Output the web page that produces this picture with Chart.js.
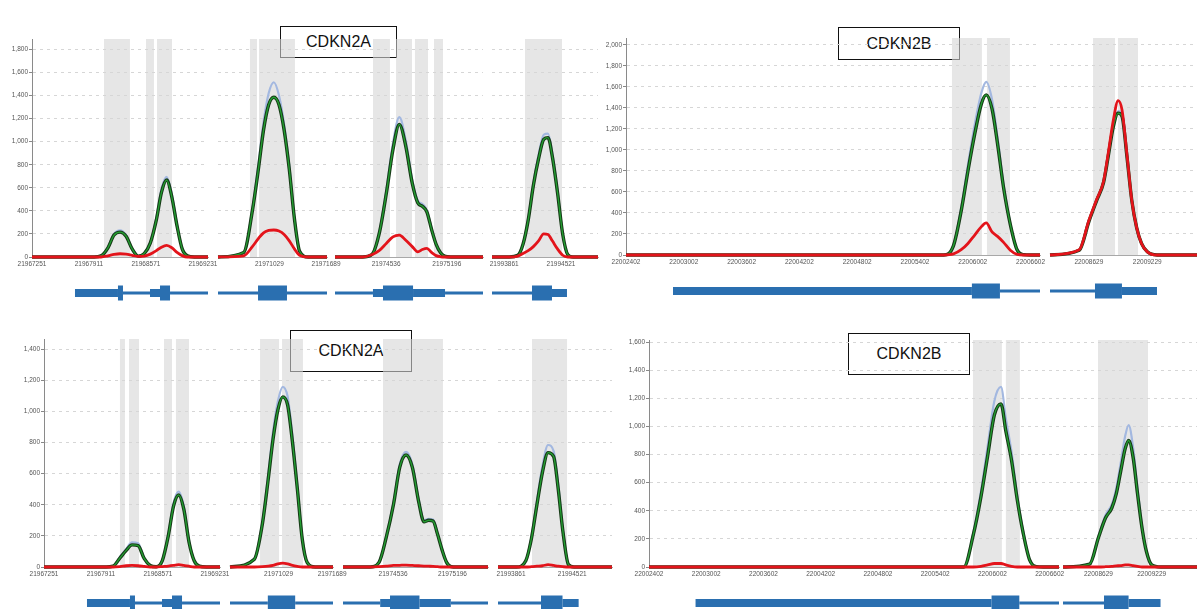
<!DOCTYPE html>
<html><head><meta charset="utf-8">
<script src="https://cdn.jsdelivr.net/npm/chart.js@4.4.1/dist/chart.umd.min.js"></script>
<style>
html,body{margin:0;padding:0;background:#fff;}
body{width:1197px;height:609px;overflow:hidden;position:relative;font-family:'Liberation Sans',Arial,sans-serif;}
canvas{position:absolute;}
.title{position:absolute;box-sizing:border-box;border:1.5px solid #111;background:#fff;display:flex;align-items:center;justify-content:center;font-size:16px;color:#111;}
</style></head>
<body>
<div class="title" style="left:280px;top:26px;width:117px;height:32px;">CDKN2A</div>
<div class="title" style="left:838px;top:27px;width:122px;height:33px;">CDKN2B</div>
<div class="title" style="left:290px;top:330px;width:122px;height:42px;">CDKN2A</div>
<div class="title" style="left:848px;top:333px;width:122px;height:42px;">CDKN2B</div>
<script>
// ---------- y tick labels per panel ----------
const upAYTicks = [0,200,400,600,800,1000,1200,1400,1600,1800];
const upBYTicks = [0,200,400,600,800,1000,1200,1400,1600,1800,2000];
const loAYTicks = [0,200,400,600,800,1000,1200,1400];
const loBYTicks = [0,200,400,600,800,1000,1200,1400,1600];

// ---------- CDKN2A : axis ranges, ticks, positions ----------
const aRange1 = [21967251, 21969290];
const aRange2 = [21970431, 21971700];
const aRange3 = [21973980, 21975590];
const aRange4 = [21993720, 21994950];
const aTicks1 = [21967251, 21967911, 21968571, 21969231];
const aTicks2 = [21971029, 21971689];
const aTicks3 = [21974536, 21975196];
const aTicks4 = [21993861, 21994521];
const aPos1 = [21967251,21967851,21967971,21968051,21968131,21968201,21968271,21968341,21968411,21968481,21968551,21968621,21968691,21968751,21968811,21968871,21968931,21968991,21969051,21969131,21969290];
const aPos2 = [21970431,21970731,21970831,21970901,21970961,21971021,21971081,21971141,21971201,21971261,21971321,21971381,21971481,21971700];
const aPos3 = [21973980,21974280,21974380,21974460,21974540,21974610,21974680,21974750,21974820,21974880,21974930,21974980,21975030,21975080,21975130,21975180,21975240,21975330,21975590];
const aPos4 = [21993720,21993920,21994020,21994080,21994140,21994200,21994260,21994320,21994370,21994420,21994480,21994540,21994600,21994660,21994720,21994950];

// ---------- CDKN2B : axis ranges, ticks, positions ----------
const bRange1 = [22002402, 22006700];
const bRange2 = [22008230, 22009740];
const bTicks1 = [22002402, 22003002, 22003602, 22004202, 22004802, 22005402, 22006002, 22006602];
const bTicks2 = [22008629, 22009229];
const bPos1 = [22002402,22005402,22005702,22005802,22005882,22005952,22006022,22006092,22006142,22006202,22006262,22006322,22006392,22006462,22006532,22006602,22006700];
const bPos2 = [22008230,22008530,22008630,22008710,22008780,22008830,22008880,22008930,22008970,22009020,22009070,22009120,22009170,22009230,22009330,22009740];

// ---------- coverage, upper CDKN2A panel ----------
const upA1Green = [0,0,0,10,80,190,216,180,70,8,30,120,320,560,667,520,270,70,10,0,0];
const upA1Red   = [0,0,0,0,10,22,28,25,15,5,8,25,55,85,100,80,40,12,0,0,0];
const upA1Blue  = [0,0,0,10,84,200,232,190,74,8,32,128,338,590,695,545,282,73,10,0,0];
const upA2Green = [0,40,400,760,1100,1320,1385,1320,1100,760,330,50,0,0];
const upA2Red   = [0,10,90,160,210,230,234,225,195,140,70,15,0,0];
const upA2Blue  = [0,42,420,800,1170,1420,1515,1400,1150,790,340,52,0,0];
const upA3Green = [0,0,20,200,560,930,1150,960,640,470,440,390,240,110,35,5,0,0,0];
const upA3Red   = [0,0,20,55,120,175,190,145,90,45,65,75,40,12,2,0,0,0,0];
const upA3Blue  = [0,0,21,210,590,985,1212,1010,670,490,460,405,250,114,36,5,0,0,0];
const upA4Green = [0,0,15,110,320,620,850,1020,1035,870,560,200,20,0,0,0];
const upA4Red   = [0,0,8,30,55,90,140,200,195,140,70,15,0,0,0,0];
const upA4Blue  = [0,0,15,115,335,645,885,1060,1070,900,575,205,20,0,0,0];

// ---------- coverage, lower CDKN2A panel ----------
const loA1Green = [0,0,0,5,58,105,142,138,55,10,2,40,200,390,463,370,160,40,5,0,0];
const loA1Red   = [0,0,0,0,3,8,10,8,4,0,0,3,6,10,15,10,5,0,0,0,0];
const loA1Blue  = [0,0,0,6,64,115,158,152,60,10,2,44,212,410,485,390,170,42,5,0,0];
const loA2Green = [0,50,280,560,820,1010,1093,1040,800,500,180,30,0,0];
const loA2Red   = [0,0,2,5,10,20,25,20,10,4,0,0,0,0];
const loA2Blue  = [0,52,295,590,870,1065,1158,1095,840,520,185,30,0,0];
const loA3Green = [0,0,30,190,400,640,720,640,420,290,300,295,210,110,30,3,0,0,0];
const loA3Red   = [0,0,2,5,10,11,12,10,8,6,5,4,2,0,0,0,0,0,0];
const loA3Blue  = [0,0,31,198,415,660,740,660,435,300,310,305,217,114,31,3,0,0,0];
const loA4Green = [0,0,40,180,400,610,735,710,500,230,15,0,0,0,0,0];
const loA4Red   = [0,0,0,2,5,8,15,10,5,2,0,0,0,0,0,0];
const loA4Blue  = [0,0,42,190,425,650,784,745,530,240,15,0,0,0,0,0];

// ---------- coverage, upper CDKN2B panel ----------
const upB1Green = [0,0,0,90,420,800,1150,1440,1524,1390,1040,640,290,50,3,0,0];
const upB1Red   = [0,0,0,10,50,110,190,270,305,220,175,120,45,5,0,0,0];
const upB1Blue  = [0,0,0,95,450,860,1240,1545,1648,1480,1100,670,300,52,3,0,0];
const upB2Green = [0,45,320,520,690,950,1220,1350,1320,940,520,260,110,30,0,0];
const upB2Red   = [0,50,330,530,700,980,1280,1470,1380,960,520,260,110,30,0,0];
const upB2Blue  = [0,46,325,525,695,960,1240,1370,1340,950,525,262,111,30,0,0];

// ---------- coverage, lower CDKN2B panel ----------
const loB1Green = [0,0,0,230,500,790,1080,1160,970,760,480,250,50,3,0,0,0];
const loB1Red   = [0,0,0,0,5,15,25,25,15,5,0,0,0,0,0,0,0];
const loB1Blue  = [0,0,0,245,540,860,1180,1281,1060,820,510,262,52,3,0,0,0];
const loB2Green = [0,20,210,350,420,520,680,840,900,780,520,280,110,15,0,0];
const loB2Red   = [0,0,0,2,5,8,10,15,15,10,5,0,0,0,0,0];
const loB2Blue  = [0,21,220,370,445,560,740,930,1010,850,560,295,115,15,0,0];

// ---------- shaded exon regions [start, end] ----------
const upA1Exons = [[21968085,21968386],[21968572,21968664],[21968699,21968873]];
const upA2Exons = [[21970803,21970885],[21970908,21971327]];
const upA3Exons = [[21974393,21974578],[21974644,21974818],[21974850,21974992],[21975057,21975155]];
const upA4Exons = [[21994103,21994532]];
const loA1Exons = [[21968131,21968189],[21968236,21968352],[21968641,21968734],[21968780,21968931]];
const loA2Exons = [[21970801,21971035],[21971072,21971330]];
const loA3Exons = [[21974424,21975090]];
const loA4Exons = [[21994087,21994465]];
const upB1Exons = [[22005786,22006097],[22006149,22006388]];
const upB2Exons = [[22008672,22008898],[22008928,22009134]];
const loB1Exons = [[22005798,22006101],[22006143,22006290]];
const loB2Exons = [[22008624,22009188]];

// ---------- gene models [start, end, kind] kind 1=intron 2=UTR 3=CDS ----------
const aGene1 = [[21967749,21968247,2],[21968247,21968305,3],[21968305,21968618,1],[21968618,21968734,2],[21968734,21968850,3],[21968850,21969290,1]];
const aGene2 = [[21970431,21970897,1],[21970897,21971234,3],[21971234,21971700,1]];
const aGene3 = [[21973980,21974393,1],[21974393,21974502,2],[21974502,21974829,3],[21974829,21975177,2],[21975177,21975590,1]];
const aGene4 = [[21993720,21994184,1],[21994184,21994416,3],[21994416,21994590,2]];
const bGene1 = [[22002890,22005993,2],[22005993,22006284,3],[22006284,22006700,1]];
const bGene2 = [[22008230,22008692,1],[22008692,22008969,3],[22008969,22009329,2]];

// ---------- layout (pixel geometry, not data) ----------
const panels = [
  {top:39, bottom:257, yMax:1890, yTicks:upAYTicks, axisLeft:0, segs:[
    {l:32, r:208, range:aRange1, ticks:aTicks1, pos:aPos1, g:upA1Green, rd:upA1Red, bl:upA1Blue, ex:upA1Exons, gene:aGene1},
    {l:218, r:327, range:aRange2, ticks:aTicks2, pos:aPos2, g:upA2Green, rd:upA2Red, bl:upA2Blue, ex:upA2Exons, gene:aGene2},
    {l:335, r:483, range:aRange3, ticks:aTicks3, pos:aPos3, g:upA3Green, rd:upA3Red, bl:upA3Blue, ex:upA3Exons, gene:aGene3},
    {l:492, r:598, range:aRange4, ticks:aTicks4, pos:aPos4, g:upA4Green, rd:upA4Red, bl:upA4Blue, ex:upA4Exons, gene:aGene4}]},
  {top:38, bottom:255, yMax:2065, yTicks:upBYTicks, axisLeft:598, segs:[
    {l:626, r:1040, range:bRange1, ticks:bTicks1, pos:bPos1, g:upB1Green, rd:upB1Red, bl:upB1Blue, ex:upB1Exons, gene:bGene1},
    {l:1050, r:1197, range:bRange2, ticks:bTicks2, pos:bPos2, g:upB2Green, rd:upB2Red, bl:upB2Blue, ex:upB2Exons, gene:bGene2}]},
  {top:339, bottom:567, yMax:1465, yTicks:loAYTicks, axisLeft:10, segs:[
    {l:44, r:220, range:aRange1, ticks:aTicks1, pos:aPos1, g:loA1Green, rd:loA1Red, bl:loA1Blue, ex:loA1Exons, gene:aGene1},
    {l:230, r:333, range:aRange2, ticks:aTicks2, pos:aPos2, g:loA2Green, rd:loA2Red, bl:loA2Blue, ex:loA2Exons, gene:aGene2},
    {l:343, r:488, range:aRange3, ticks:aTicks3, pos:aPos3, g:loA3Green, rd:loA3Red, bl:loA3Blue, ex:loA3Exons, gene:aGene3},
    {l:498, r:612, range:aRange4, ticks:aTicks4, pos:aPos4, g:loA4Green, rd:loA4Red, bl:loA4Blue, ex:loA4Exons, gene:aGene4}]},
  {top:340, bottom:567, yMax:1615, yTicks:loBYTicks, axisLeft:620, segs:[
    {l:649, r:1059, range:bRange1, ticks:bTicks1, pos:bPos1, g:loB1Green, rd:loB1Red, bl:loB1Blue, ex:loB1Exons, gene:bGene1},
    {l:1063, r:1197, range:bRange2, ticks:bTicks2, pos:bPos2, g:loB2Green, rd:loB2Red, bl:loB2Blue, ex:loB2Exons, gene:bGene2}]}
];

Chart.defaults.font.family = "'Liberation Sans', Arial, sans-serif";
const tickFont = {size: 6.5, family: "'Liberation Sans', Arial, sans-serif"};
const GENE_H = [0, 3, 8, 15];

function pts(pos, vals){ return pos.map((x,i)=>({x:x, y:vals[i]})); }

function addSegment(p, s, first){
  const padT = 10, xH = 12, padB = 44, padR = 24;
  const padL = first ? 0 : 30;
  const canvasLeft = first ? p.axisLeft : s.l - padL;
  const axisW = first ? s.l - p.axisLeft : 0;
  const w = (s.r - canvasLeft) + padR;
  const h = padT + (p.bottom - p.top) + xH + padB;
  const c = document.createElement('canvas');
  c.width = w; c.height = h;
  c.style.left = canvasLeft + 'px';
  c.style.top = (p.top - padT) + 'px';
  document.body.appendChild(c);

  const line = (data, color, width, order) => ({
    data: data, borderColor: color, borderWidth: width, pointRadius: 0,
    fill: false, cubicInterpolationMode: 'monotone', order: order, clip: false
  });
  const green = pts(s.pos, s.g);
  new Chart(c, {
    type: 'line',
    data: { datasets: [
      line(pts(s.pos, s.rd), '#e3141b', 2.8, 0),
      line(green, '#23a032', 1.3, 1),
      line(green, '#173a17', 3.4, 2),
      line(pts(s.pos, s.bl), '#a3b8e0', 2.2, 3)
    ]},
    options: {
      responsive: false, animation: false, events: [],
      layout: {padding: {left: padL, right: padR, top: padT, bottom: padB}},
      plugins: {legend: {display: false}, tooltip: {enabled: false}},
      scales: {
        x: {
          type: 'linear', min: s.range[0], max: s.range[1],
          afterBuildTicks: ax => { ax.ticks = s.ticks.map(v => ({value: v})); },
          afterFit: ax => { ax.height = xH; ax.paddingLeft = 0; ax.paddingRight = 0; },
          ticks: {autoSkip: false, maxRotation: 0, minRotation: 0, padding: 3, font: tickFont, color: '#555',
                  callback: v => String(v)},
          grid: {display: false, drawTicks: false},
          border: {display: true, color: '#a8a8a8', width: 1}
        },
        y: {
          type: 'linear', min: 0, max: p.yMax,
          afterBuildTicks: ax => { ax.ticks = p.yTicks.map(v => ({value: v})); },
          afterFit: ax => { ax.width = axisW; ax.paddingTop = 0; ax.paddingBottom = 0; },
          ticks: {display: first, autoSkip: false, padding: 1, font: tickFont, color: '#555',
                  callback: v => Number(v).toLocaleString('en-US')},
          grid: {display: true, color: '#d6d6d6', lineWidth: 1, drawTicks: first, tickLength: 3,
                 tickColor: '#888', tickBorderDash: []},
          border: {display: first, color: '#8a8a8a', width: 1, dash: [3, 4]}
        }
      }
    },
    plugins: [{
      id: 'deco',
      beforeDatasetsDraw(chart){
        const ctx = chart.ctx, xs = chart.scales.x, a = chart.chartArea;
        ctx.save();
        ctx.fillStyle = 'rgba(214,214,214,0.6)';
        s.ex.forEach(e => {
          const x1 = xs.getPixelForValue(e[0]), x2 = xs.getPixelForValue(e[1]);
          ctx.fillRect(x1, a.top, x2 - x1, a.bottom - a.top);
        });
        ctx.restore();
      },
      afterDraw(chart){
        const ctx = chart.ctx, xs = chart.scales.x, a = chart.chartArea;
        const yc = a.bottom + 36;
        ctx.save();
        ctx.fillStyle = '#2a6fb0';
        s.gene.forEach(g => {
          const x1 = xs.getPixelForValue(g[0]), x2 = xs.getPixelForValue(g[1]);
          const hh = GENE_H[g[2]];
          ctx.fillRect(x1, yc - hh/2, x2 - x1, hh);
        });
        ctx.restore();
      }
    }]
  });
}

panels.forEach(p => p.segs.forEach((s, i) => addSegment(p, s, i === 0)));
</script>
</body></html>
